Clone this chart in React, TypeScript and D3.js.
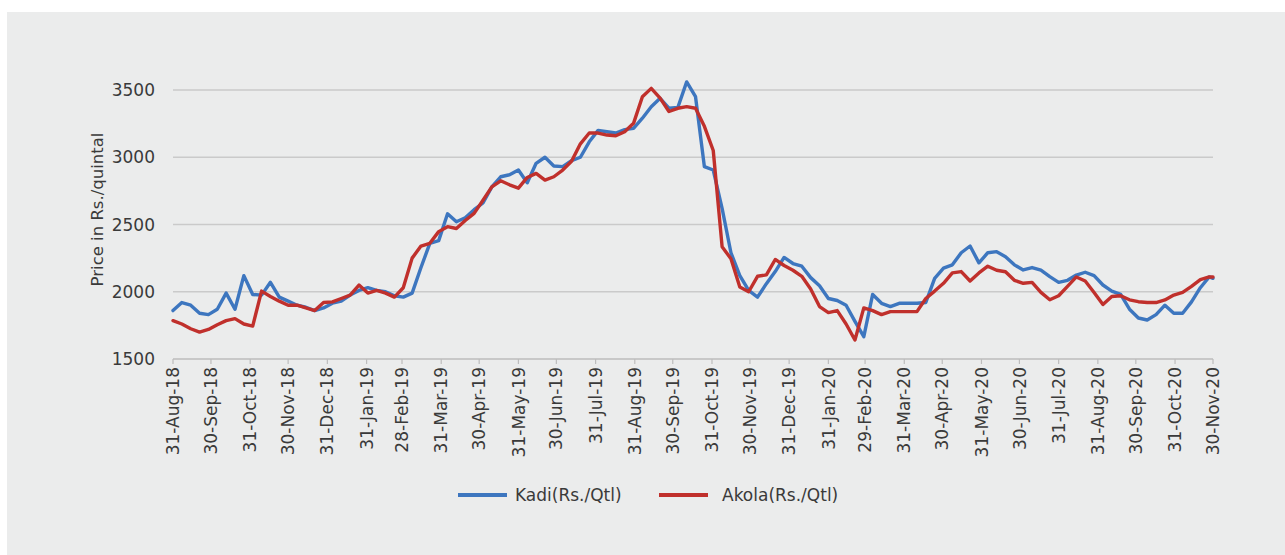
import React from "react";
import * as d3 from "d3";

// Weekly price observations (Rs./quintal) from 31-Aug-18; the last entry is 30-Nov-20.
const seriesStart = "2018-08-31";
const seriesEnd = "2020-11-30";

const kadi = [
  1860, 1920, 1900, 1840, 1830, 1870, 1990, 1870, 2120, 1980,
  1975, 2070, 1960, 1930, 1900, 1885, 1860, 1880, 1915, 1930,
  1975, 2010, 2030, 2010, 2000, 1970, 1960, 1990, 2180, 2360,
  2380, 2580, 2520, 2550, 2610, 2660, 2780, 2855, 2870, 2905,
  2810, 2955, 3000, 2935, 2930, 2975, 3000, 3115, 3200, 3190,
  3180, 3205, 3215, 3290, 3375, 3438, 3365, 3370, 3560, 3450,
  2930, 2905, 2620, 2290, 2120, 2010, 1960, 2060, 2150, 2255,
  2210, 2190, 2105, 2045, 1950, 1935, 1900, 1780, 1666, 1980,
  1914, 1890, 1914, 1914, 1914, 1920, 2100, 2175, 2200, 2290,
  2340, 2215, 2290, 2298, 2261, 2200, 2162, 2180, 2160, 2112,
  2070, 2085, 2124, 2145, 2120, 2050, 2005, 1980, 1870, 1805,
  1790, 1830, 1900, 1840, 1840, 1925, 2030, 2110, 2100,
];

const akola = [
  1785, 1760, 1725, 1700, 1720, 1755, 1785, 1800, 1760, 1745,
  2005, 1965, 1930, 1900, 1900, 1880, 1860, 1920, 1925, 1950,
  1975, 2050, 1990, 2010, 1990, 1960, 2030, 2250, 2340, 2360,
  2447, 2484, 2470, 2530, 2583, 2680, 2780, 2825, 2795, 2770,
  2850, 2880, 2830, 2855, 2905, 2970, 3100, 3180, 3180, 3165,
  3160, 3190, 3252, 3450, 3512, 3440, 3340, 3364, 3376, 3364,
  3230, 3050, 2335, 2245, 2035, 2000, 2115, 2125, 2240, 2195,
  2160, 2115, 2020, 1890, 1845, 1860, 1760, 1641, 1880, 1860,
  1830, 1852, 1852, 1852, 1852, 1950, 2005, 2063, 2140, 2150,
  2080, 2140, 2190, 2160, 2149, 2085, 2063, 2070, 1995, 1940,
  1970, 2040, 2110, 2080, 1995, 1905, 1965, 1970, 1940, 1926,
  1920, 1920, 1939, 1975, 1995, 2040, 2090, 2110, 2110,
];

const yTicks = [1500, 2000, 2500, 3000, 3500];
const seriesNames = ["Kadi(Rs./Qtl)", "Akola(Rs./Qtl)"];
const seriesColors = ["#3d76bf", "#c0302c"];
const yTitle = "Price in Rs./quintal";

const W = 1285;
const H = 555;
const FONT = "DejaVu Sans";
const TEXT = "#3a3a3a";

export default function App() {
  const parse = d3.timeParse("%Y-%m-%d");
  const start = parse(seriesStart) as Date;
  const end = parse(seriesEnd) as Date;
  const dates = kadi.map((_, i) =>
    i === kadi.length - 1 ? end : d3.timeDay.offset(start, 7 * i)
  );

  const x = d3.scaleTime().domain([start, end]).range([173, 1213]);
  const y = d3.scaleLinear().domain([1500, 3500]).range([359, 90]);

  // month-end ticks: 31-Aug-18 ... 30-Nov-20
  const monthEnds = d3
    .timeMonth.range(d3.timeMonth.offset(d3.timeMonth.floor(start), 1), d3.timeDay.offset(d3.timeMonth.ceil(end), 1))
    .map((d) => d3.timeDay.offset(d, -1));
  const fmt = d3.timeFormat("%d-%b-%y");

  const line = d3
    .line<number>()
    .x((_, i) => x(dates[i]))
    .y((v) => y(v));

  const series = [kadi, akola];
  const [x0, x1] = x.range();

  return (
    <svg
      width={W}
      height={H}
      style={{ position: "absolute", left: 0, top: 0, display: "block", background: "#ffffff" }}
      fontFamily={FONT}
    >
      <rect x={7} y={12} width={W - 7} height={H - 12} fill="#ebecec" />

      {/* horizontal gridlines */}
      {yTicks.map((t) => (
        <line
          key={"g" + t}
          x1={x0}
          x2={x1}
          y1={y(t)}
          y2={y(t)}
          stroke={t === 1500 ? "#bdbdbd" : "#cacaca"}
          strokeWidth={1.3}
        />
      ))}

      {/* y tick labels */}
      {yTicks.map((t) => (
        <text
          key={"yl" + t}
          x={155}
          y={y(t)}
          dy="0.36em"
          textAnchor="end"
          fontSize={17}
          fill={TEXT}
        >
          {t}
        </text>
      ))}

      <text
        transform={`translate(97,${(y(1500) + y(3500)) / 2 - 15}) rotate(-90)`}
        textAnchor="middle"
        dy="0.35em"
        fontSize={16.5}
        fill={TEXT}
      >
        {yTitle}
      </text>

      {/* x ticks and rotated labels */}
      {monthEnds.map((d, i) => (
        <g key={"x" + i} transform={`translate(${x(d)},0)`}>
          <line y1={y(1500)} y2={y(1500) + 5} stroke="#bdbdbd" strokeWidth={1.2} />
          <text
            transform={`translate(0,${y(1500) + 8}) rotate(-90)`}
            textAnchor="end"
            dy="0.36em"
            fontSize={17}
            fill={TEXT}
          >
            {fmt(d)}
          </text>
        </g>
      ))}

      {/* price lines */}
      {series.map((s, i) => (
        <path
          key={"s" + i}
          d={line(s) || ""}
          fill="none"
          stroke={seriesColors[i]}
          strokeWidth={3.4}
          strokeLinejoin="round"
          strokeLinecap="round"
        />
      ))}

      {/* legend */}
      {seriesNames.map((name, i) => {
        const lx = [458, 659][i];
        const tx = [515, 722][i];
        return (
          <g key={"lg" + i}>
            <line x1={lx} x2={lx + 49} y1={495} y2={495} stroke={seriesColors[i]} strokeWidth={4} />
            <text x={tx} y={495} dy="0.36em" fontSize={17} fill={TEXT}>
              {name}
            </text>
          </g>
        );
      })}
    </svg>
  );
}
